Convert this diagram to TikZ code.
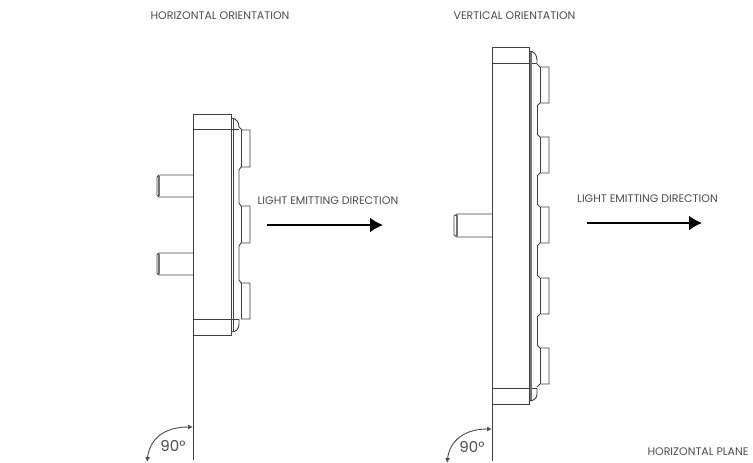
\documentclass[tikz,border=0pt]{standalone}
\usepackage{fontspec}
\setmainfont{Poppins}
\usetikzlibrary{positioning,arrows.meta}

\begin{document}
\begin{tikzpicture}[x=1pt,y=-1pt,
lbl/.style={text=black!70,font=\fontsize{11}{13}\selectfont,inner sep=0pt},
part/.style={draw=black!75,line width=0.9pt},
ang/.style={draw=black!70,line width=0.9pt,{Latex[length=5pt,width=5pt]}-{Latex[length=5pt,width=5pt]}},
emit/.style={draw=black,line width=2pt,-{Latex[length=13pt,width=15pt]}}]
\useasboundingbox (0,0) rectangle (753,463);

% left unit
\draw[part] (193,460) -- (193,114) -- (231,114) -- (231,335) -- (193,335);
\draw[part] (193,129) -- (239,129);
\draw[part] (193,319) -- (239,319);
\draw[part] (233,118) -- (233,332);
\draw[part] (231,118) .. controls (236,118) and (239,122) .. (239,127) -- (242,130) -- (250,130) -- (250,167) -- (241,167) -- (239,170);
\draw[part] (241,130) -- (241,167);
\draw[part] (239,170) -- (239,203) -- (241,206) -- (250,206) -- (250,243) -- (241,243) -- (239,246);
\draw[part] (241,206) -- (241,243);
\draw[part] (239,246) -- (239,280) -- (241,283) -- (250,283) -- (250,319) -- (241,319);
\draw[part] (241,283) -- (241,319);
\draw[part] (239,319) -- (239,324) .. controls (239,329) and (236,332) .. (231,332);
\foreach \y in {175,253} {
  \draw[part] (193,\y) -- (159,\y) -- (157,\y+2) -- (157,\y+20) -- (159,\y+22) -- (193,\y+22);
  \draw[part,line width=1.2pt,draw=black!55] (159,\y+1) -- (159,\y+21);
}

% right unit
\draw[part] (492,461) -- (492,47) -- (529,47) -- (529,404) -- (492,404);
\draw[part] (492,63) -- (537,63);
\draw[part] (492,388) -- (537,388);
\draw[part,line width=1.2pt,draw=black!55] (531,51) -- (531,401);
\draw[part] (529,51) .. controls (534,51) and (537,55) .. (537,60) -- (537,63);
\draw[part] (537,388) -- (537,394) .. controls (537,398) and (534,401) .. (529,401);
\foreach \y in {67,137,207,278,348} {
  \draw[part] (537,\y-3) -- (540,\y) -- (549,\y) -- (549,\y+36) -- (540,\y+36) -- (537,\y+39);
  \draw[part] (540,\y) -- (540,\y+36);
}
\foreach \y in {106,176,246,317} {
  \draw[part] (537,\y) -- (537,\y+29);
}
\draw[part] (492,214) -- (457,214) -- (454,216) -- (454,235) -- (457,237) -- (492,237);
\draw[part,line width=1.2pt,draw=black!55] (457,215) -- (457,236);

% labels
\node[lbl] (horizontal) at (220,16) {HORIZONTAL ORIENTATION};
\node[lbl] (vertical) at (514.5,15.5) {VERTICAL ORIENTATION};
\node[lbl] (lightleft) at (328,201) {LIGHT EMITTING DIRECTION};
\node[lbl] (lightright) at (647.5,199) {LIGHT EMITTING DIRECTION};
\node[lbl] (plane) at (698,452) {HORIZONTAL PLANE};
\node[lbl,font=\fontsize{15}{17}\selectfont] (angleft) at (173,446) {90°};
\node[lbl,font=\fontsize{15}{17}\selectfont] (angright) at (472,447) {90°};

% arrows
\coordinate (emitlefta) at (267,225);
\coordinate (emitleftb) at (383,225);
\coordinate (emitrighta) at (587,223);
\coordinate (emitrightb) at (702,223);
\draw[emit] (emitlefta) -- (emitleftb);
\draw[emit] (emitrighta) -- (emitrightb);
\coordinate (angla) at (193,427);
\coordinate (anglb) at (147,462);
\coordinate (angra) at (492,429);
\coordinate (angrb) at (447,463);
\draw[ang] (angla) .. controls (165,427) and (150,438) .. (anglb);
\draw[ang] (angra) .. controls (465,429) and (450,440) .. (angrb);
\end{tikzpicture}
\end{document}
